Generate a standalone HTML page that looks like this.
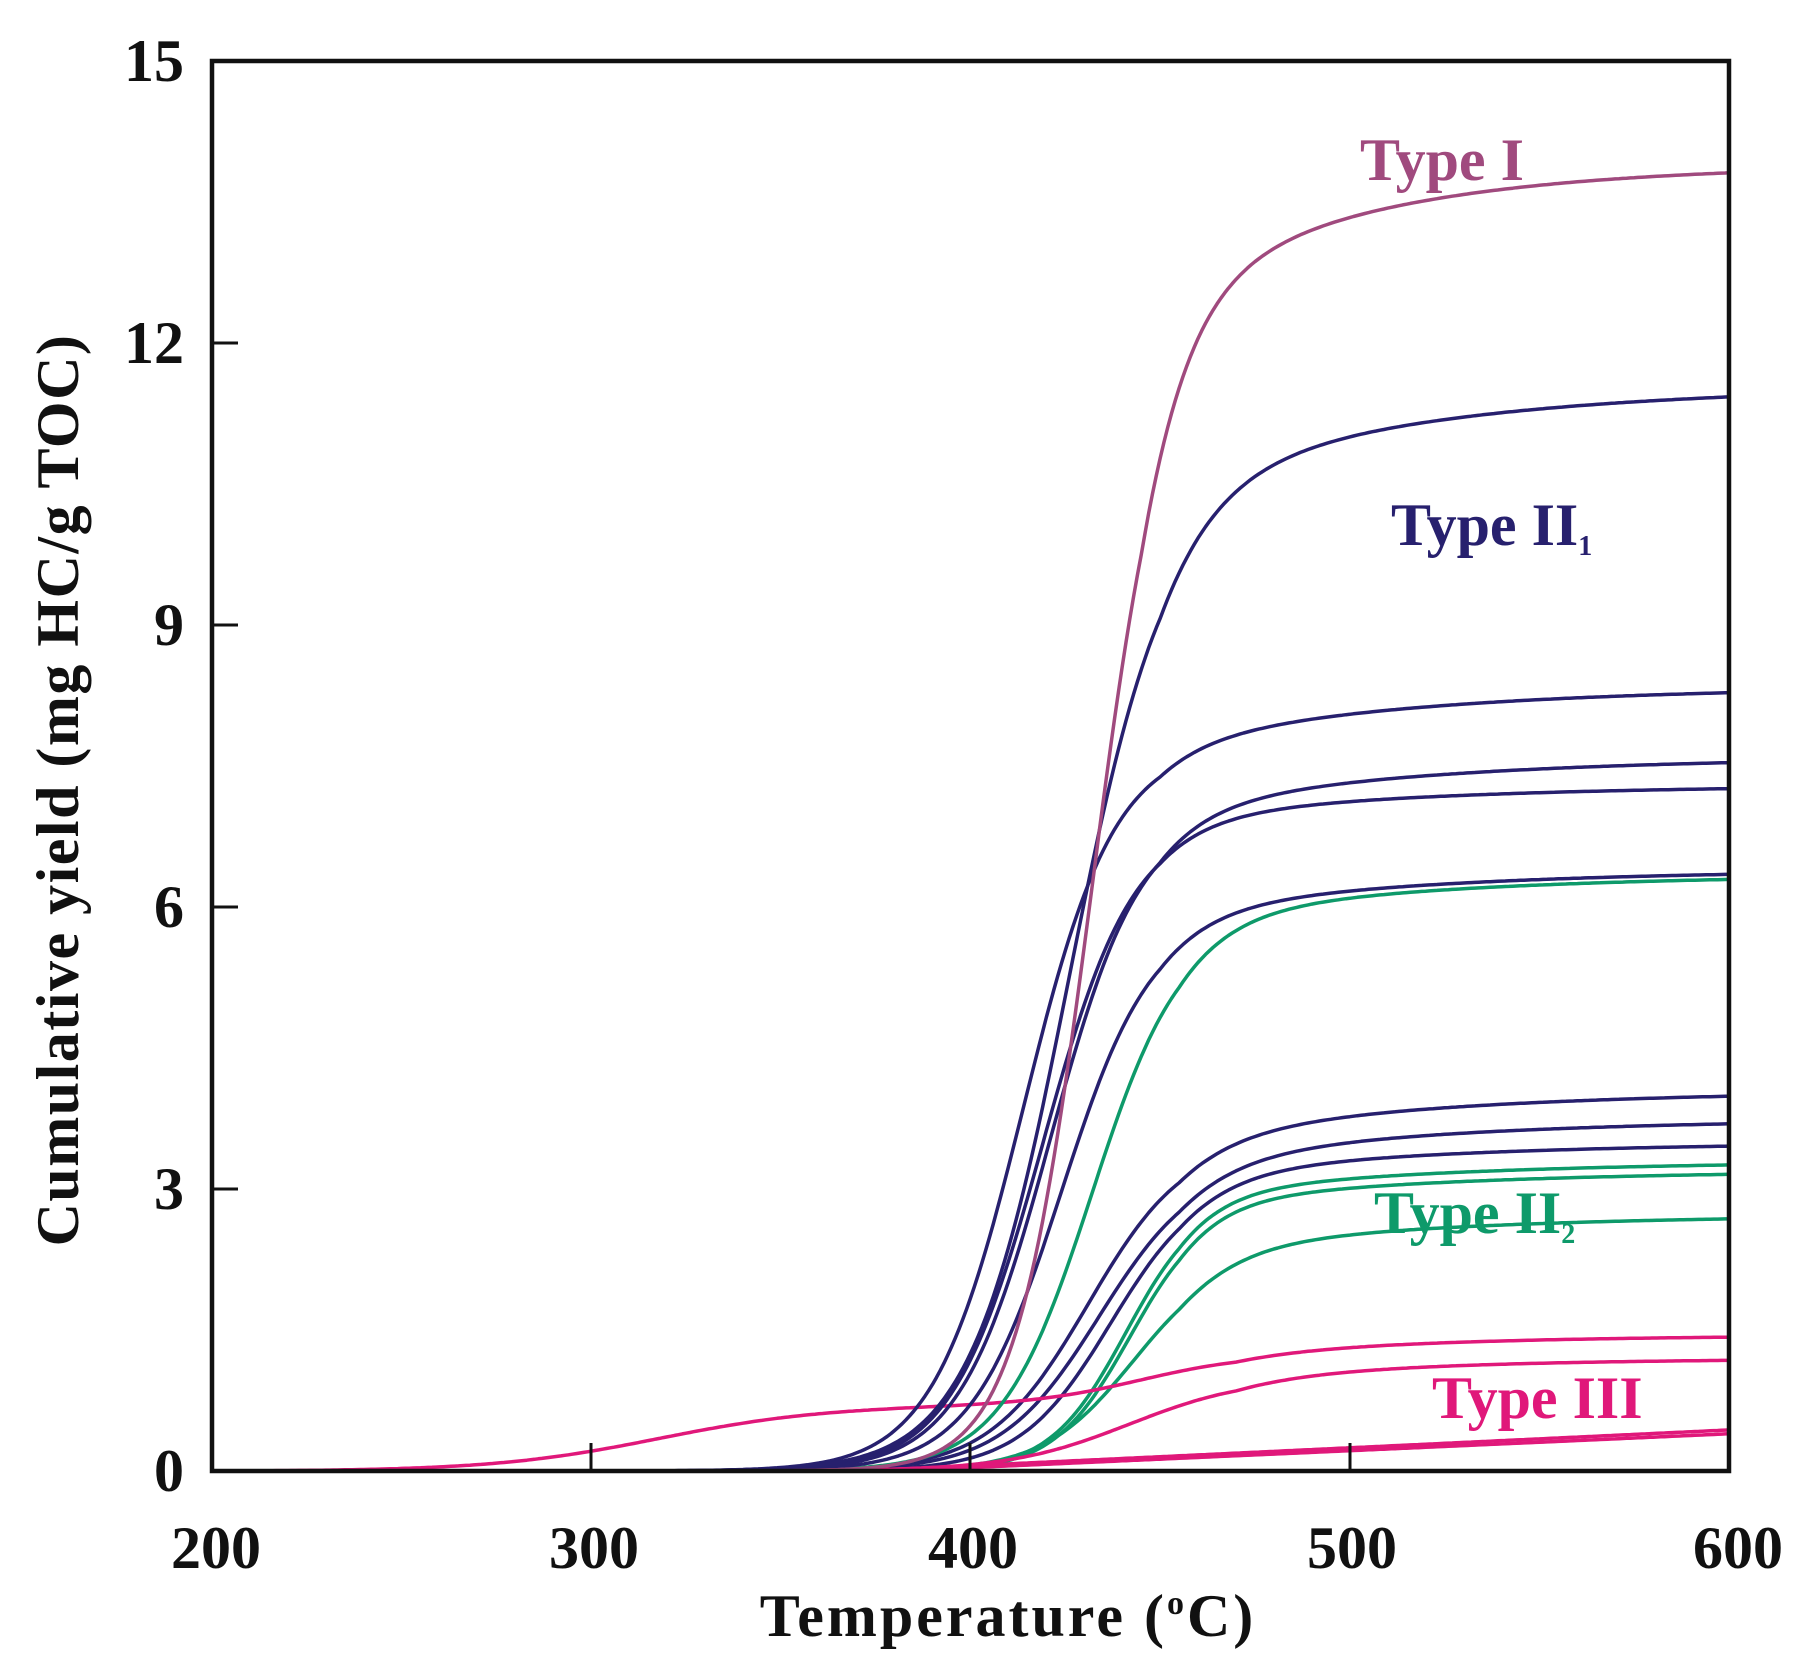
<!DOCTYPE html>
<html><head><meta charset="utf-8">
<style>
html,body{margin:0;padding:0;background:#fff;}
svg{display:block;}
text{font-family:"Liberation Serif",serif;font-weight:bold;}
</style></head>
<body>
<svg id="s" width="1811" height="1676" viewBox="0 0 1811 1676" xmlns="http://www.w3.org/2000/svg">
<rect width="1811" height="1676" fill="#fff"/>
<g id="curves" fill="none" stroke-width="3.5" stroke-linejoin="round"></g>
<rect x="212" y="61" width="1517" height="1410" fill="none" stroke="#111" stroke-width="4.5"/>
<g stroke="#111" stroke-width="3">
<line x1="591" y1="1471" x2="591" y2="1443"/>
<line x1="970" y1="1471" x2="970" y2="1443"/>
<line x1="1350" y1="1471" x2="1350" y2="1443"/>
<line x1="212" y1="1189" x2="238" y2="1189"/>
<line x1="212" y1="907" x2="238" y2="907"/>
<line x1="212" y1="625" x2="238" y2="625"/>
<line x1="212" y1="343" x2="238" y2="343"/>
</g>
<g font-size="60" fill="#111" text-anchor="end">
<text x="184" y="1491">0</text>
<text x="184" y="1209">3</text>
<text x="184" y="927">6</text>
<text x="184" y="645">9</text>
<text x="184" y="363">12</text>
<text x="184" y="81">15</text>
</g>
<g font-size="60" fill="#111" text-anchor="middle">
<text x="216" y="1568">200</text>
<text x="594" y="1568">300</text>
<text x="973" y="1568">400</text>
<text x="1352" y="1568">500</text>
<text x="1738" y="1568">600</text>
<text x="1008" y="1636" letter-spacing="3">Temperature (<tspan font-size="34" dy="-22">o</tspan><tspan dy="22">C)</tspan></text>
<text transform="translate(78,790) rotate(-90)" letter-spacing="1.5">Cumulative yield (mg HC/g TOC)</text>
</g>
<text x="1360" y="180" font-size="60" fill="#a04a7e">Type I</text>
<text x="1391" y="545" font-size="60" fill="#27206e">Type II<tspan font-size="28" dy="10">1</tspan></text>
<text x="1374" y="1233" font-size="60" fill="#0e9a6a">Type II<tspan font-size="28" dy="10">2</tspan></text>
<text x="1432" y="1418" font-size="60" fill="#e0187a">Type III</text>
</svg>
<script>
const X=t=>212+(t-200)*379.25/100, Y=v=>1471-v*94;
const sig=(t,a,t0,w)=>a/(1+Math.exp(-(t-t0)/w));
function path(f,col){let d='';for(let t=200;t<=600;t+=1){d+=(t==200?'M':'L')+X(t).toFixed(1)+','+Y(Math.max(0,f(t))).toFixed(1);}
const p=document.createElementNS('http://www.w3.org/2000/svg','path');p.setAttribute('d',d);p.setAttribute('stroke',col);document.getElementById('curves').appendChild(p);}
const sat=(t,t0,a,k)=>t>t0?a*(1-Math.exp(-(t-t0)/k)):0;
const N='#27206e',G='#0e9a6a',P='#e0187a',I='#a04a7e';
[[3.55,431,13,0.5],[3.3,434,13,0.45],[3.15,437,12,0.35]].forEach(c=>path(t=>sig(t,c[0],c[1],c[2])-sig(200,c[0],c[1],c[2])+sat(t,455,c[3],70),N));
[[2.95,441,10,0.35],[2.85,442,10,0.35],[2.35,443,12,0.38]].forEach(c=>path(t=>sig(t,c[0],c[1],c[2])-sig(200,c[0],c[1],c[2])+sat(t,455,c[3],70),G));
path(t=>sig(t,0.7,318,22)+sig(t,0.55,445,15)+sat(t,470,0.2,60)-sig(200,0.7,318,22),P);
path(t=>sig(t,1.0,442,16)+sat(t,470,0.2,60)-sig(200,1.0,442,16),P);
path(t=>t<370?0:(t-370)*0.0019,P);
path(t=>t<380?0:(t-380)*0.0018,P);
path(t=>sig(t,5.9,432,12)-sig(200,5.9,432,12)+sat(t,455,0.45,70),G);
[[5.95,424,12,0.45],[6.95,419,12,0.35],[7.05,421,12,0.55],[7.75,414,12,0.6],[10.5,426,13,1.05]].forEach(c=>path(t=>sig(t,c[0],c[1],c[2])-sig(200,c[0],c[1],c[2])+sat(t,450,c[3],70),N));
path(t=>sig(t,12.4,432,10)-sig(200,12.4,432,10)+sat(t,445,1.5,55),I);
</script>
</body></html>
